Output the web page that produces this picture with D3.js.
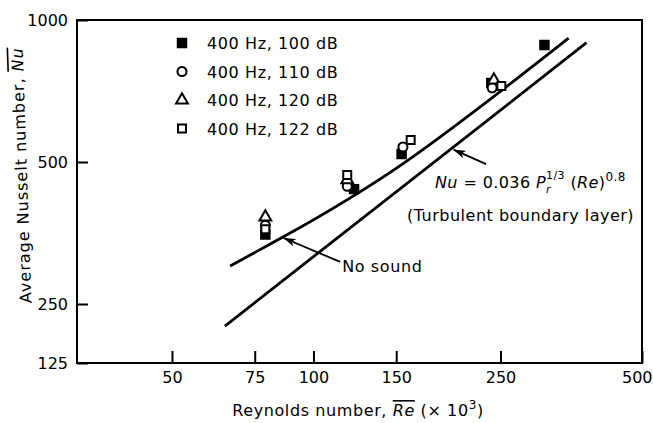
<!DOCTYPE html>
<html>
<head>
<meta charset="utf-8">
<script src="https://cdn.jsdelivr.net/npm/d3@7"></script>
<style>
  body { margin: 0; background: #fff; }
  text { font-family: "DejaVu Sans", sans-serif; fill: #000; }
  .tick line { stroke: #000; stroke-width: 2; }
  .tick text { font-size: 16px; }
</style>
</head>
<body>
<script>
//Legend entries (frequency, sound level)
var seriesLabels = ["400 Hz, 100 dB", "400 Hz, 110 dB", "400 Hz, 120 dB", "400 Hz, 122 dB"];

//Measured points, Reynolds number (x 10^3) and average Nusselt number
var re100 = [79, 122, 154, 239, 310];
var nu100 = [351, 438, 520, 735, 885];
var re110 = [79, 118, 155, 240];
var nu110 = [367, 444, 538, 718];
var re120 = [79, 118, 242];
var nu120 = [382, 458, 746];
var re122 = [79, 118, 161, 251];
var nu122 = [360, 469, 557, 725];

//Curve (the one marked "No sound")
var curveRe = [66.5, 86.3, 156, 349];
var curveNu = [301, 347, 498, 915];

//Nu = 0.036 Pr^1/3 Re^0.8 line, end points
var turbRe = [64.8, 381];
var turbNu = [193, 895];

//Tick labels
var xTicks = [50, 75, 100, 150, 250, 500];
var yTicks = [125, 250, 500, 1000];

//Annotation arrows: [tail, tip]
var noSoundArrow = [[114, 307], [86.4, 345]];
var formulaArrow = [[233, 495], [198.6, 531]];

var W = 653, H = 423;
var svg = d3.select("body").append("svg")
    .attr("width", W)
    .attr("height", H);

svg.append("defs").append("marker")
    .attr("id", "head")
    .attr("viewBox", "0 0 12 8")
    .attr("refX", 12).attr("refY", 4)
    .attr("markerWidth", 12).attr("markerHeight", 8)
    .attr("markerUnits", "userSpaceOnUse")
    .attr("orient", "auto")
  .append("path")
    .attr("d", "M0,0 L12,4 L0,8 L3,4 Z")
    .style("fill", "#000");

//Log x scale; y is log but the axis is cut below 250
var xScale = d3.scaleLog()
    .domain([31.4, 500])
    .range([77, 642]);
var yScale = d3.scaleLog()
    .domain([125, 250, 1000])
    .range([363, 304, 20]);

//Axes with inward ticks
var xAxis = d3.axisBottom(xScale)
    .tickValues(xTicks)
    .tickFormat(d3.format("d"))
    .tickSizeInner(-12).tickSizeOuter(0).tickPadding(9);
var yAxis = d3.axisLeft(yScale)
    .tickValues(yTicks)
    .tickFormat(d3.format("d"))
    .tickSizeInner(-11).tickSizeOuter(0).tickPadding(9);

var gx = svg.append("g")
    .attr("transform", "translate(0," + yScale(125) + ")")
    .call(xAxis);
gx.select(".domain").remove();
gx.selectAll(".tick text").style("fill", "#000");
//last label sits against the right edge
gx.selectAll(".tick text")
    .filter(function(d) { return d === 500; })
    .attr("x", 10)
    .style("text-anchor", "end");

var gy = svg.append("g")
    .attr("transform", "translate(" + xScale(31.4) + ",0)")
    .call(yAxis);
gy.select(".domain").remove();
gy.selectAll(".tick text").style("fill", "#000");

//Frame
svg.append("rect")
    .attr("x", xScale(31.4))
    .attr("y", yScale(1000))
    .attr("width", xScale(500) - xScale(31.4))
    .attr("height", yScale(125) - yScale(1000))
    .style("fill", "none")
    .style("stroke", "#000")
    .style("stroke-width", 2);

//Lines
var line = d3.line()
    .x(function(d) { return xScale(d[0]); })
    .y(function(d) { return yScale(d[1]); });

svg.append("path")
    .datum(curveRe.map(function(r, i) { return [r, curveNu[i]]; }))
    .attr("d", line.curve(d3.curveNatural))
    .style("fill", "none").style("stroke", "#000").style("stroke-width", 2.8);

svg.append("path")
    .datum(turbRe.map(function(r, i) { return [r, turbNu[i]]; }))
    .attr("d", line.curve(d3.curveLinear))
    .style("fill", "none").style("stroke", "#000").style("stroke-width", 2.8);

//Points
var series = [
    {re: re100, nu: nu100, type: d3.symbolSquare, size: 72, fill: "#000"},
    {re: re110, nu: nu110, type: d3.symbolCircle, size: 64, fill: "#fff"},
    {re: re120, nu: nu120, type: d3.symbolTriangle, size: 60, fill: "#fff"},
    {re: re122, nu: nu122, type: d3.symbolSquare, size: 64, fill: "#fff"}
];

series.forEach(function(s) {
    var sym = d3.symbol().type(s.type).size(s.size);
    svg.append("g").selectAll("path")
        .data(s.re.map(function(r, i) { return [r, s.nu[i]]; }))
        .enter().append("path")
        .attr("d", sym)
        .attr("transform", function(d) {
            return "translate(" + xScale(d[0]) + "," + yScale(d[1]) + ")";
        })
        .style("fill", s.fill)
        .style("stroke", "#000")
        .style("stroke-width", 2);
});

//Legend
var legend = svg.append("g");
series.forEach(function(s, i) {
    var cy = 43 + i * 28.5;
    legend.append("path")
        .attr("d", d3.symbol().type(s.type).size(s.size)())
        .attr("transform", "translate(182," + cy + ")")
        .style("fill", s.fill)
        .style("stroke", "#000")
        .style("stroke-width", 2);
    legend.append("text")
        .attr("x", 207)
        .attr("y", cy + 6)
        .style("font-size", "16px")
        .style("letter-spacing", "0.6px")
        .text(seriesLabels[i]);
});

//Arrows
[noSoundArrow, formulaArrow].forEach(function(a) {
    svg.append("line")
        .attr("x1", xScale(a[0][0])).attr("y1", yScale(a[0][1]))
        .attr("x2", xScale(a[1][0])).attr("y2", yScale(a[1][1]))
        .style("stroke", "#000")
        .style("stroke-width", 1.8)
        .attr("marker-end", "url(#head)");
});

svg.append("text")
    .attr("x", xScale(noSoundArrow[0][0]) + 2)
    .attr("y", yScale(noSoundArrow[0][1]) + 10)
    .style("font-size", "16px")
    .style("letter-spacing", "0.6px")
    .text("No sound");

//Formula
var f = svg.append("text")
    .attr("x", 435)
    .attr("y", 188)
    .style("font-size", "16px")
    .style("letter-spacing", "0.4px");
f.append("tspan").style("font-style", "italic").text("Nu");
f.append("tspan").text(" = 0.036 ");
f.append("tspan").style("font-style", "italic").text("P");
f.append("tspan").attr("dy", 5).style("font-size", "11px").style("font-style", "italic").text("r");
f.append("tspan").attr("dx", -5).attr("dy", -14).style("font-size", "11px").text("1/3");
f.append("tspan").attr("dy", 9).text(" (");
f.append("tspan").style("font-style", "italic").text("Re");
f.append("tspan").text(")");
f.append("tspan").attr("dy", -7).style("font-size", "12px").text("0.8");

svg.append("text")
    .attr("x", 407)
    .attr("y", 221)
    .style("font-size", "16px")
    .style("letter-spacing", "0.5px")
    .text("(Turbulent boundary layer)");

//Axis titles
var xt = svg.append("text")
    .attr("x", 358)
    .attr("y", 416)
    .style("text-anchor", "middle")
    .style("font-size", "16px")
    .style("letter-spacing", "0.6px");
xt.append("tspan").text("Reynolds number, ");
xt.append("tspan").style("font-style", "italic").style("text-decoration", "overline").text("Re");
xt.append("tspan").text(" (\u00D7 10");
xt.append("tspan").attr("dy", -7).style("font-size", "12px").text("3");
xt.append("tspan").attr("dy", 7).text(")");

var yt = svg.append("text")
    .attr("transform", "translate(27,175) rotate(-92)")
    .style("text-anchor", "middle")
    .style("font-size", "16px")
    .style("letter-spacing", "1px");
yt.append("tspan").text("Average Nusselt number, ");
yt.append("tspan").style("font-style", "italic").style("text-decoration", "overline").text("Nu");
</script>
</body>
</html>
